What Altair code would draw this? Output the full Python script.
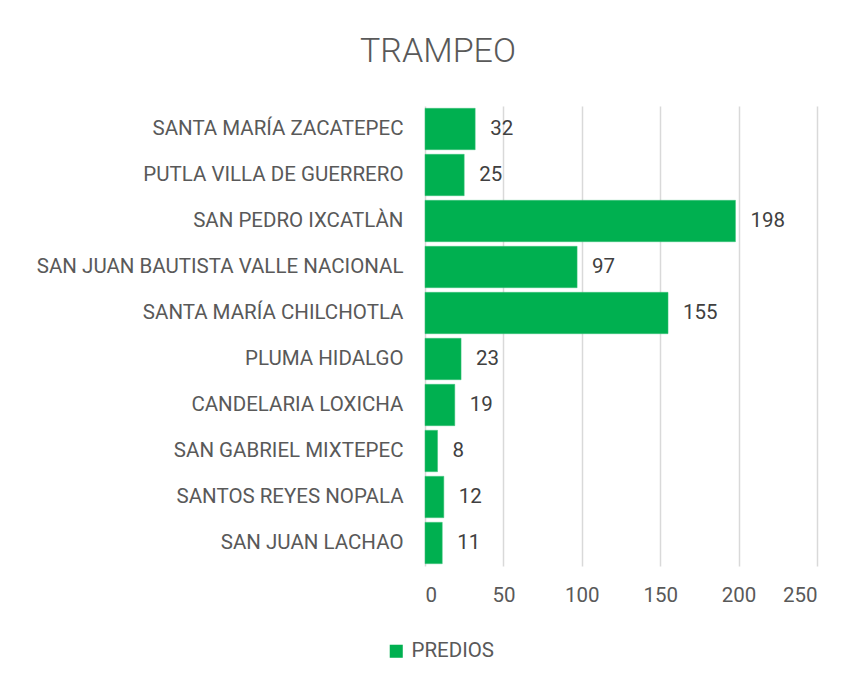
import altair as alt
import pandas as pd

categories = [
    "SANTA MARÍA ZACATEPEC",
    "PUTLA VILLA DE GUERRERO",
    "SAN PEDRO IXCATLÀN",
    "SAN JUAN BAUTISTA VALLE NACIONAL",
    "SANTA MARÍA CHILCHOTLA",
    "PLUMA HIDALGO",
    "CANDELARIA LOXICHA",
    "SAN GABRIEL MIXTEPEC",
    "SANTOS REYES NOPALA",
    "SAN JUAN LACHAO",
]
values = [32, 25, 198, 97, 155, 23, 19, 8, 12, 11]
series = ["PREDIOS"] * len(categories)

df = pd.DataFrame({"municipio": categories, "predios": values, "serie": series})

FONT = "Roboto"
FS = 20.5
GREEN = "#00B050"

base = alt.Chart(df).encode(
    y=alt.Y(
        "municipio:N",
        sort=categories,
        title=None,
        scale=alt.Scale(paddingInner=0.1, paddingOuter=0.05),
        axis=alt.Axis(
            labelFont=FONT, labelFontSize=FS, labelColor="#595959",
            labelPadding=22, ticks=False, domain=False, grid=False,
            labelLimit=500,
        ),
    ),
    x=alt.X(
        "predios:Q",
        title=None,
        scale=alt.Scale(domain=[0, 250], nice=False),
        axis=alt.Axis(
            values=[0, 50, 100, 150, 200, 250], labelFont=FONT,
            labelFontSize=FS, labelColor="#595959", labelPadding=19,
            ticks=False, domain=False, grid=True, gridColor="#d9d9d9",
            gridWidth=1.5,
        ),
    ),
)

bars = base.mark_bar(stroke="#3cc27a", strokeWidth=0.5).encode(
    color=alt.Color(
        "serie:N",
        scale=alt.Scale(range=[GREEN]),
        legend=alt.Legend(
            title=None, orient="none", legendX=-39, legendY=535,
            direction="horizontal", symbolType="square", symbolSize=170,
            symbolStrokeWidth=0, labelFont=FONT, labelFontSize=FS,
            labelColor="#595959", labelOffset=5,
        ),
    )
)

labels = base.mark_text(
    align="left", baseline="middle", dx=15, font=FONT, fontSize=FS,
    color="#404040",
).encode(text="predios:Q")

chart = (
    (bars + labels)
    .properties(
        width=392,
        height=460,
        autosize=alt.AutoSizeParams(type="none"),
        padding={"left": 417, "top": 98, "right": 26, "bottom": 110},
        title=alt.TitleParams(
            "TRAMPEO", font=FONT, fontSize=34, fontWeight=300,
            color="#595959", anchor="middle", dx=-183, offset=37,
        ),
    )
    .configure_view(stroke=None)
)

chart.save("out.html", embed_options={"renderer": "svg", "actions": False})
